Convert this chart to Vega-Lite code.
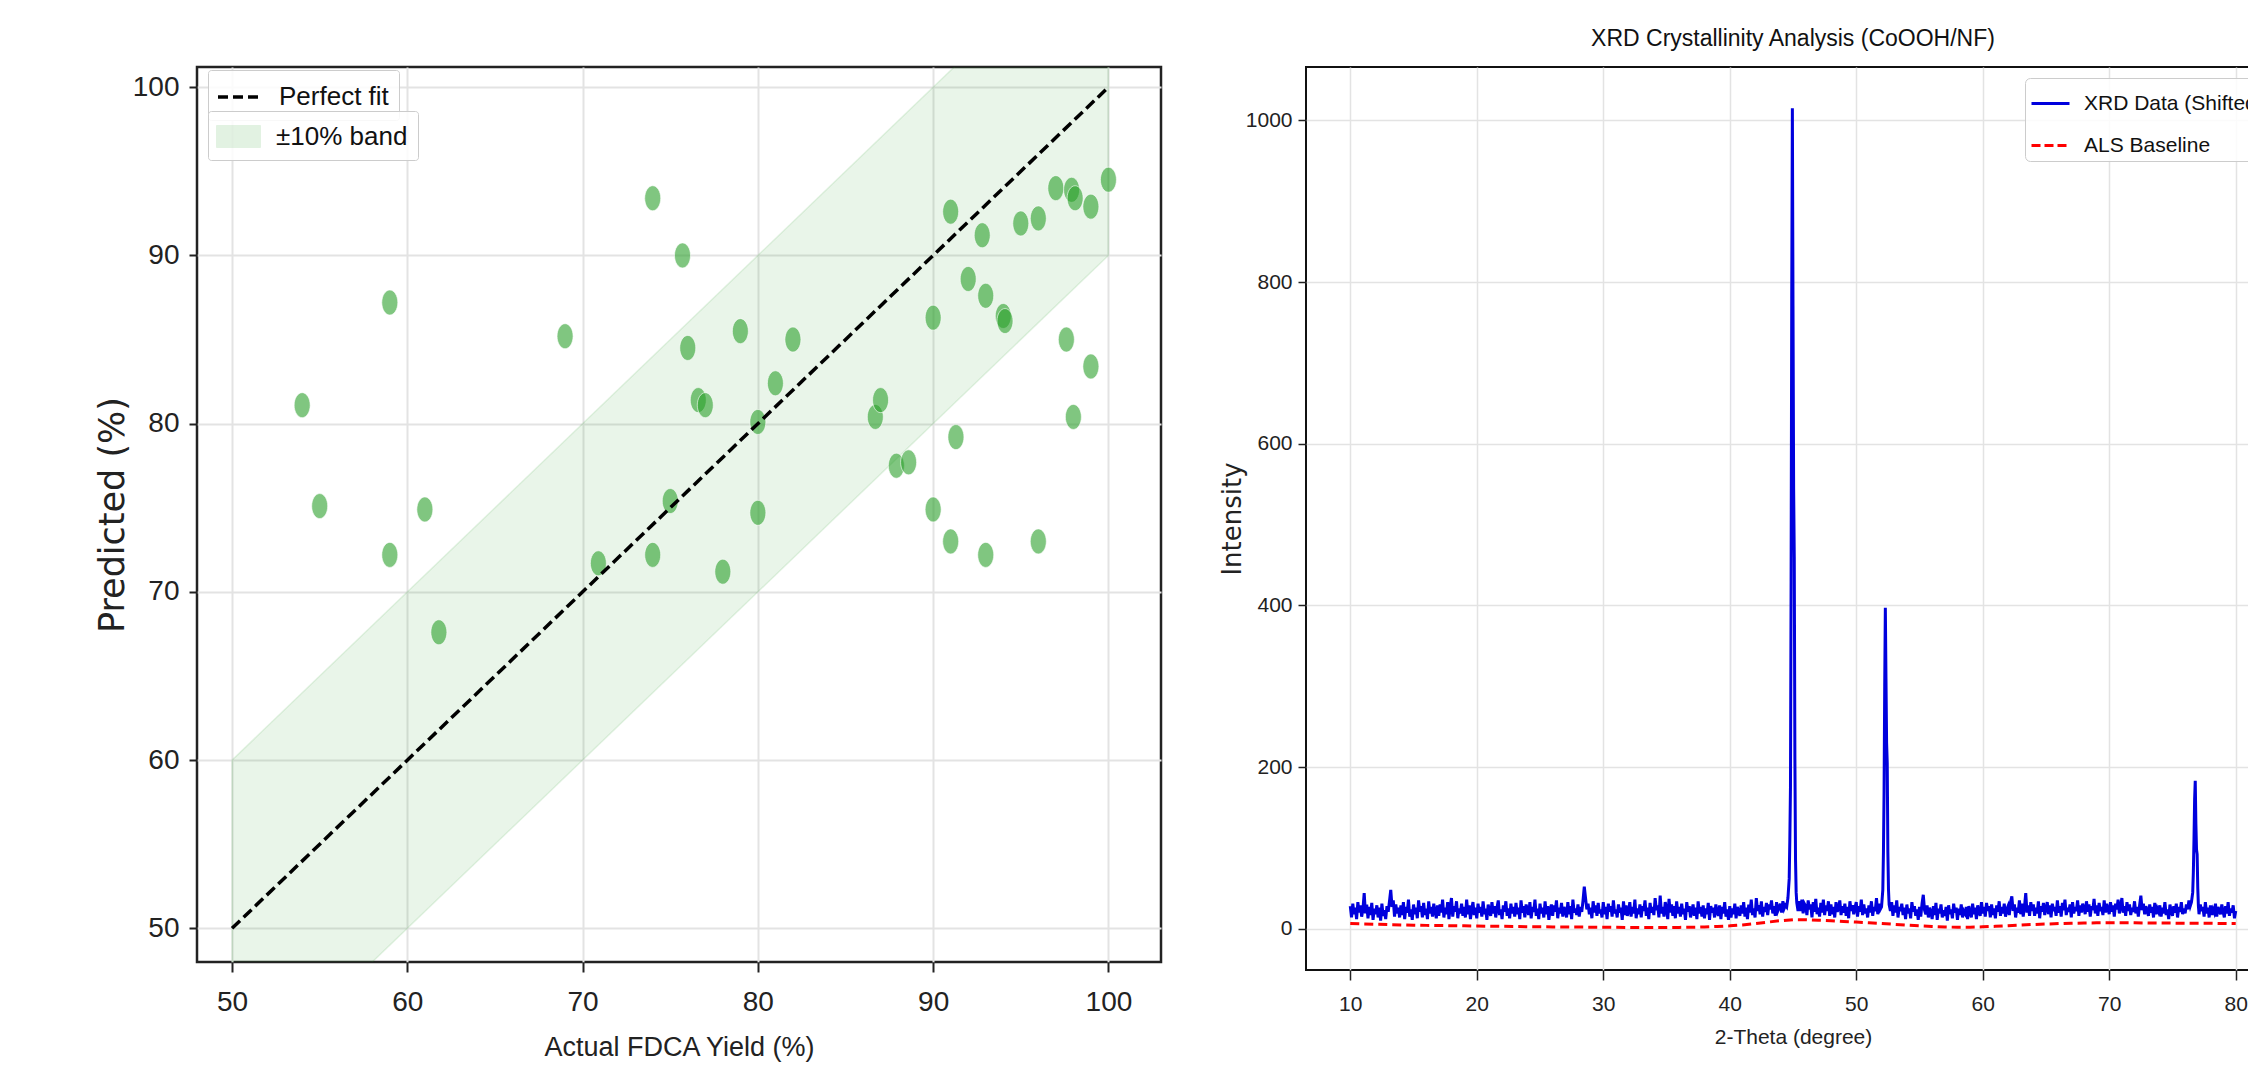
{
"$schema": "https://vega.github.io/schema/vega-lite/v6.json",
"background": "white",
"padding": {"left": 94, "top": 27, "right": 0, "bottom": 0},
"spacing": 55,
"resolve": {"scale": {"color": "independent"}, "legend": {"color": "independent"}},
"config": {
  "font": "Liberation Sans, Arial, sans-serif",
  "axis": {"labelColor": "#222", "titleColor": "#222", "tickColor": "#222", "domain": false, "gridColor": "#e3e3e3", "titleFontWeight": "normal", "labelFont": "Liberation Sans, Arial, sans-serif"},
  "title": {"fontWeight": "normal", "color": "#111", "font": "Liberation Sans, Arial, sans-serif"}
},
"datasets": {
  "band": [{"x": 50, "lo": 40, "hi": 60}, {"x": 100, "lo": 90, "hi": 110}],
  "fit": [{"x": 50, "y": 50}, {"x": 100, "y": 100}],
  "pts": [{"a":54,"p":81.1},{"a":55,"p":75.1},{"a":59,"p":87.2},{"a":59,"p":72.2},{"a":61,"p":74.9},{"a":61.8,"p":67.6},{"a":69,"p":85.2},{"a":70.9,"p":71.7},{"a":74,"p":93.4},{"a":74,"p":72.2},{"a":75,"p":75.4},{"a":75.7,"p":90.0},{"a":76,"p":84.5},{"a":76.6,"p":81.4},{"a":77,"p":81.1},{"a":78,"p":71.2},{"a":79,"p":85.5},{"a":80,"p":80.1},{"a":80,"p":74.7},{"a":81,"p":82.4},{"a":82,"p":85.0},{"a":86.7,"p":80.4},{"a":87,"p":81.4},{"a":87.9,"p":77.5},{"a":88.6,"p":77.7},{"a":90,"p":86.3},{"a":90,"p":74.9},{"a":91,"p":92.6},{"a":91,"p":73.0},{"a":91.3,"p":79.2},{"a":92,"p":88.6},{"a":92.8,"p":91.2},{"a":93,"p":87.6},{"a":93,"p":72.2},{"a":94,"p":86.4},{"a":94.1,"p":86.1},{"a":95,"p":91.9},{"a":96,"p":92.2},{"a":96,"p":73.0},{"a":97,"p":94.0},{"a":97.6,"p":85.0},{"a":97.9,"p":93.9},{"a":98.1,"p":93.4},{"a":98,"p":80.4},{"a":99,"p":92.9},{"a":99,"p":83.4},{"a":100,"p":94.5}],
  "base": [{"t":10,"i":6.5},{"t":11,"i":6.0},{"t":12,"i":5.6},{"t":13,"i":5.2},{"t":14,"i":4.8},{"t":15,"i":4.5},{"t":16,"i":4.2},{"t":17,"i":4.0},{"t":18,"i":3.8},{"t":19,"i":3.6},{"t":20,"i":3.4},{"t":21,"i":3.2},{"t":22,"i":3.0},{"t":23,"i":2.8},{"t":24,"i":2.6},{"t":25,"i":2.4},{"t":26,"i":2.3},{"t":27,"i":2.2},{"t":28,"i":2.1},{"t":29,"i":2.0},{"t":30,"i":1.9},{"t":31,"i":1.8},{"t":32,"i":1.7},{"t":33,"i":1.6},{"t":34,"i":1.6},{"t":35,"i":1.6},{"t":36,"i":1.7},{"t":37,"i":1.9},{"t":38,"i":2.2},{"t":39,"i":2.8},{"t":40,"i":3.6},{"t":41,"i":4.8},{"t":42,"i":6.4},{"t":43,"i":8.2},{"t":44,"i":10.0},{"t":45,"i":11.3},{"t":46,"i":11.2},{"t":47,"i":10.6},{"t":48,"i":9.9},{"t":49,"i":9.1},{"t":50,"i":8.3},{"t":51,"i":7.4},{"t":52,"i":6.5},{"t":53,"i":5.5},{"t":54,"i":4.5},{"t":55,"i":3.6},{"t":56,"i":2.8},{"t":57,"i":2.2},{"t":58,"i":1.9},{"t":59,"i":2.0},{"t":60,"i":2.4},{"t":61,"i":3.0},{"t":62,"i":3.8},{"t":63,"i":4.6},{"t":64,"i":5.3},{"t":65,"i":5.9},{"t":66,"i":6.4},{"t":67,"i":6.8},{"t":68,"i":7.1},{"t":69,"i":7.3},{"t":70,"i":7.4},{"t":71,"i":7.4},{"t":72,"i":7.3},{"t":73,"i":7.2},{"t":74,"i":7.1},{"t":75,"i":7.0},{"t":76,"i":6.9},{"t":77,"i":6.8},{"t":78,"i":6.7},{"t":79,"i":6.6},{"t":80,"i":6.5}],
  "xrd": [
{"t":10.0,"i":28},{"t":10.1,"i":14},{"t":10.2,"i":31},{"t":10.3,"i":18},{"t":10.4,"i":26},{"t":10.5,"i":12},{"t":10.6,"i":33},{"t":10.7,"i":20},{"t":10.8,"i":29},{"t":10.9,"i":15},
{"t":11.0,"i":24},{"t":11.1,"i":44},{"t":11.2,"i":19},{"t":11.3,"i":30},{"t":11.4,"i":13},{"t":11.5,"i":27},{"t":11.6,"i":17},{"t":11.7,"i":32},{"t":11.8,"i":11},{"t":11.9,"i":25},
{"t":12.0,"i":18},{"t":12.1,"i":29},{"t":12.2,"i":14},{"t":12.3,"i":26},{"t":12.4,"i":10},{"t":12.5,"i":31},{"t":12.6,"i":16},{"t":12.7,"i":23},{"t":12.8,"i":12},{"t":12.9,"i":28},
{"t":13.0,"i":21},{"t":13.1,"i":34},{"t":13.2,"i":48},{"t":13.3,"i":27},{"t":13.4,"i":35},{"t":13.5,"i":15},{"t":13.6,"i":30},{"t":13.7,"i":19},{"t":13.8,"i":26},{"t":13.9,"i":14},
{"t":14.0,"i":29},{"t":14.1,"i":17},{"t":14.2,"i":33},{"t":14.3,"i":12},{"t":14.4,"i":27},{"t":14.5,"i":20},{"t":14.6,"i":36},{"t":14.7,"i":15},{"t":14.8,"i":24},{"t":14.9,"i":11},
{"t":15.0,"i":30},{"t":15.1,"i":18},{"t":15.2,"i":26},{"t":15.3,"i":13},{"t":15.4,"i":35},{"t":15.5,"i":21},{"t":15.6,"i":28},{"t":15.7,"i":14},{"t":15.8,"i":32},{"t":15.9,"i":17},
{"t":16.0,"i":25},{"t":16.1,"i":12},{"t":16.2,"i":34},{"t":16.3,"i":19},{"t":16.4,"i":27},{"t":16.5,"i":15},{"t":16.6,"i":31},{"t":16.7,"i":22},{"t":16.8,"i":13},{"t":16.9,"i":29},
{"t":17.0,"i":16},{"t":17.1,"i":30},{"t":17.2,"i":20},{"t":17.3,"i":36},{"t":17.4,"i":14},{"t":17.5,"i":26},{"t":17.6,"i":18},{"t":17.7,"i":33},{"t":17.8,"i":12},{"t":17.9,"i":27},
{"t":18.0,"i":38},{"t":18.1,"i":15},{"t":18.2,"i":28},{"t":18.3,"i":21},{"t":18.4,"i":34},{"t":18.5,"i":13},{"t":18.6,"i":25},{"t":18.7,"i":19},{"t":18.8,"i":31},{"t":18.9,"i":16},
{"t":19.0,"i":27},{"t":19.1,"i":14},{"t":19.2,"i":36},{"t":19.3,"i":18},{"t":19.4,"i":29},{"t":19.5,"i":12},{"t":19.6,"i":24},{"t":19.7,"i":33},{"t":19.8,"i":17},{"t":19.9,"i":26},
{"t":20.0,"i":13},{"t":20.1,"i":31},{"t":20.2,"i":20},{"t":20.3,"i":27},{"t":20.4,"i":15},{"t":20.5,"i":34},{"t":20.6,"i":18},{"t":20.7,"i":25},{"t":20.8,"i":11},{"t":20.9,"i":30},
{"t":21.0,"i":22},{"t":21.1,"i":16},{"t":21.2,"i":33},{"t":21.3,"i":19},{"t":21.4,"i":28},{"t":21.5,"i":14},{"t":21.6,"i":26},{"t":21.7,"i":35},{"t":21.8,"i":17},{"t":21.9,"i":24},
{"t":22.0,"i":12},{"t":22.1,"i":29},{"t":22.2,"i":21},{"t":22.3,"i":34},{"t":22.4,"i":16},{"t":22.5,"i":25},{"t":22.6,"i":13},{"t":22.7,"i":31},{"t":22.8,"i":19},{"t":22.9,"i":27},
{"t":23.0,"i":15},{"t":23.1,"i":32},{"t":23.2,"i":18},{"t":23.3,"i":26},{"t":23.4,"i":12},{"t":23.5,"i":35},{"t":23.6,"i":20},{"t":23.7,"i":28},{"t":23.8,"i":14},{"t":23.9,"i":30},
{"t":24.0,"i":24},{"t":24.1,"i":17},{"t":24.2,"i":33},{"t":24.3,"i":13},{"t":24.4,"i":27},{"t":24.5,"i":21},{"t":24.6,"i":36},{"t":24.7,"i":16},{"t":24.8,"i":25},{"t":24.9,"i":12},
{"t":25.0,"i":31},{"t":25.1,"i":19},{"t":25.2,"i":26},{"t":25.3,"i":14},{"t":25.4,"i":34},{"t":25.5,"i":18},{"t":25.6,"i":28},{"t":25.7,"i":11},{"t":25.8,"i":24},{"t":25.9,"i":30},
{"t":26.0,"i":16},{"t":26.1,"i":29},{"t":26.2,"i":21},{"t":26.3,"i":35},{"t":26.4,"i":13},{"t":26.5,"i":26},{"t":26.6,"i":19},{"t":26.7,"i":32},{"t":26.8,"i":15},{"t":26.9,"i":27},
{"t":27.0,"i":22},{"t":27.1,"i":14},{"t":27.2,"i":33},{"t":27.3,"i":18},{"t":27.4,"i":28},{"t":27.5,"i":12},{"t":27.6,"i":36},{"t":27.7,"i":20},{"t":27.8,"i":25},{"t":27.9,"i":17},
{"t":28.0,"i":30},{"t":28.1,"i":15},{"t":28.2,"i":27},{"t":28.3,"i":21},{"t":28.4,"i":35},{"t":28.5,"i":52},{"t":28.6,"i":38},{"t":28.7,"i":24},{"t":28.8,"i":31},{"t":28.9,"i":18},
{"t":29.0,"i":26},{"t":29.1,"i":13},{"t":29.2,"i":34},{"t":29.3,"i":20},{"t":29.4,"i":29},{"t":29.5,"i":16},{"t":29.6,"i":32},{"t":29.7,"i":19},{"t":29.8,"i":24},{"t":29.9,"i":14},
{"t":30.0,"i":33},{"t":30.1,"i":18},{"t":30.2,"i":27},{"t":30.3,"i":12},{"t":30.4,"i":31},{"t":30.5,"i":21},{"t":30.6,"i":28},{"t":30.7,"i":15},{"t":30.8,"i":35},{"t":30.9,"i":19},
{"t":31.0,"i":24},{"t":31.1,"i":14},{"t":31.2,"i":30},{"t":31.3,"i":20},{"t":31.4,"i":26},{"t":31.5,"i":11},{"t":31.6,"i":34},{"t":31.7,"i":17},{"t":31.8,"i":29},{"t":31.9,"i":16},
{"t":32.0,"i":21},{"t":32.1,"i":33},{"t":32.2,"i":15},{"t":32.3,"i":27},{"t":32.4,"i":19},{"t":32.5,"i":36},{"t":32.6,"i":13},{"t":32.7,"i":25},{"t":32.8,"i":18},{"t":32.9,"i":30},
{"t":33.0,"i":14},{"t":33.1,"i":28},{"t":33.2,"i":22},{"t":33.3,"i":35},{"t":33.4,"i":16},{"t":33.5,"i":26},{"t":33.6,"i":12},{"t":33.7,"i":32},{"t":33.8,"i":20},{"t":33.9,"i":27},
{"t":34.0,"i":17},{"t":34.1,"i":38},{"t":34.2,"i":23},{"t":34.3,"i":29},{"t":34.4,"i":14},{"t":34.5,"i":41},{"t":34.6,"i":19},{"t":34.7,"i":27},{"t":34.8,"i":15},{"t":34.9,"i":33},
{"t":35.0,"i":25},{"t":35.1,"i":12},{"t":35.2,"i":37},{"t":35.3,"i":20},{"t":35.4,"i":30},{"t":35.5,"i":16},{"t":35.6,"i":28},{"t":35.7,"i":13},{"t":35.8,"i":34},{"t":35.9,"i":19},
{"t":36.0,"i":27},{"t":36.1,"i":15},{"t":36.2,"i":31},{"t":36.3,"i":18},{"t":36.4,"i":25},{"t":36.5,"i":11},{"t":36.6,"i":33},{"t":36.7,"i":21},{"t":36.8,"i":28},{"t":36.9,"i":14},
{"t":37.0,"i":22},{"t":37.1,"i":30},{"t":37.2,"i":16},{"t":37.3,"i":26},{"t":37.4,"i":12},{"t":37.5,"i":34},{"t":37.6,"i":19},{"t":37.7,"i":27},{"t":37.8,"i":15},{"t":37.9,"i":29},
{"t":38.0,"i":13},{"t":38.1,"i":25},{"t":38.2,"i":18},{"t":38.3,"i":32},{"t":38.4,"i":11},{"t":38.5,"i":28},{"t":38.6,"i":20},{"t":38.7,"i":26},{"t":38.8,"i":14},{"t":38.9,"i":30},
{"t":39.0,"i":21},{"t":39.1,"i":16},{"t":39.2,"i":29},{"t":39.3,"i":12},{"t":39.4,"i":27},{"t":39.5,"i":19},{"t":39.6,"i":33},{"t":39.7,"i":15},{"t":39.8,"i":24},{"t":39.9,"i":11},
{"t":40.0,"i":28},{"t":40.1,"i":14},{"t":40.2,"i":25},{"t":40.3,"i":18},{"t":40.4,"i":31},{"t":40.5,"i":13},{"t":40.6,"i":27},{"t":40.7,"i":21},{"t":40.8,"i":16},{"t":40.9,"i":29},
{"t":41.0,"i":19},{"t":41.1,"i":33},{"t":41.2,"i":15},{"t":41.3,"i":26},{"t":41.4,"i":12},{"t":41.5,"i":30},{"t":41.6,"i":20},{"t":41.7,"i":36},{"t":41.8,"i":17},{"t":41.9,"i":25},
{"t":42.0,"i":14},{"t":42.1,"i":38},{"t":42.2,"i":22},{"t":42.3,"i":29},{"t":42.4,"i":18},{"t":42.5,"i":34},{"t":42.6,"i":15},{"t":42.7,"i":27},{"t":42.8,"i":21},{"t":42.9,"i":32},
{"t":43.0,"i":17},{"t":43.1,"i":30},{"t":43.2,"i":24},{"t":43.3,"i":35},{"t":43.4,"i":19},{"t":43.5,"i":28},{"t":43.6,"i":16},{"t":43.7,"i":33},{"t":43.8,"i":22},{"t":43.9,"i":26},
{"t":44.0,"i":31},{"t":44.1,"i":20},{"t":44.2,"i":34},{"t":44.3,"i":25},{"t":44.4,"i":29},{"t":44.5,"i":27},{"t":44.6,"i":38},{"t":44.7,"i":62},{"t":44.75,"i":110},{"t":44.8,"i":175},{"t":44.85,"i":430},{"t":44.9,"i":780},{"t":44.95,"i":1015},{"t":45.0,"i":770},{"t":45.05,"i":545},{"t":45.1,"i":460},{"t":45.15,"i":210},{"t":45.2,"i":85},{"t":45.25,"i":45},{"t":45.3,"i":32},{"t":45.4,"i":22},
{"t":45.5,"i":34},{"t":45.6,"i":22},{"t":45.7,"i":36},{"t":45.8,"i":19},{"t":45.9,"i":31},
{"t":46.0,"i":28},{"t":46.1,"i":17},{"t":46.2,"i":35},{"t":46.3,"i":24},{"t":46.4,"i":30},{"t":46.5,"i":14},{"t":46.6,"i":33},{"t":46.7,"i":21},{"t":46.8,"i":37},{"t":46.9,"i":18},
{"t":47.0,"i":26},{"t":47.1,"i":15},{"t":47.2,"i":32},{"t":47.3,"i":20},{"t":47.4,"i":36},{"t":47.5,"i":17},{"t":47.6,"i":29},{"t":47.7,"i":22},{"t":47.8,"i":34},{"t":47.9,"i":16},
{"t":48.0,"i":30},{"t":48.1,"i":18},{"t":48.2,"i":27},{"t":48.3,"i":14},{"t":48.4,"i":33},{"t":48.5,"i":21},{"t":48.6,"i":25},{"t":48.7,"i":35},{"t":48.8,"i":17},{"t":48.9,"i":28},
{"t":49.0,"i":20},{"t":49.1,"i":31},{"t":49.2,"i":16},{"t":49.3,"i":27},{"t":49.4,"i":13},{"t":49.5,"i":34},{"t":49.6,"i":22},{"t":49.7,"i":29},{"t":49.8,"i":18},{"t":49.9,"i":26},
{"t":50.0,"i":33},{"t":50.1,"i":15},{"t":50.2,"i":28},{"t":50.3,"i":21},{"t":50.4,"i":36},{"t":50.5,"i":17},{"t":50.6,"i":30},{"t":50.7,"i":19},{"t":50.8,"i":25},{"t":50.9,"i":14},
{"t":51.0,"i":29},{"t":51.1,"i":20},{"t":51.2,"i":34},{"t":51.3,"i":16},{"t":51.4,"i":27},{"t":51.5,"i":22},{"t":51.6,"i":38},{"t":51.7,"i":18},{"t":51.8,"i":31},{"t":51.9,"i":24},
{"t":52.0,"i":27},{"t":52.1,"i":48},{"t":52.15,"i":95},{"t":52.2,"i":170},{"t":52.25,"i":300},{"t":52.3,"i":397},{"t":52.35,"i":310},{"t":52.4,"i":230},{"t":52.45,"i":205},{"t":52.5,"i":95},{"t":52.55,"i":48},{"t":52.6,"i":30},{"t":52.7,"i":22},{"t":52.8,"i":33},{"t":52.9,"i":16},
{"t":53.0,"i":29},{"t":53.1,"i":20},{"t":53.2,"i":35},{"t":53.3,"i":14},{"t":53.4,"i":27},{"t":53.5,"i":22},{"t":53.6,"i":31},{"t":53.7,"i":17},{"t":53.8,"i":26},{"t":53.9,"i":12},
{"t":54.0,"i":30},{"t":54.1,"i":19},{"t":54.2,"i":25},{"t":54.3,"i":13},{"t":54.4,"i":33},{"t":54.5,"i":21},{"t":54.6,"i":28},{"t":54.7,"i":16},{"t":54.8,"i":24},{"t":54.9,"i":11},
{"t":55.0,"i":27},{"t":55.1,"i":15},{"t":55.2,"i":31},{"t":55.3,"i":42},{"t":55.4,"i":23},{"t":55.5,"i":18},{"t":55.6,"i":29},{"t":55.7,"i":14},{"t":55.8,"i":26},{"t":55.9,"i":20},
{"t":56.0,"i":12},{"t":56.1,"i":28},{"t":56.2,"i":17},{"t":56.3,"i":32},{"t":56.4,"i":11},{"t":56.5,"i":25},{"t":56.6,"i":19},{"t":56.7,"i":30},{"t":56.8,"i":14},{"t":56.9,"i":23},
{"t":57.0,"i":16},{"t":57.1,"i":27},{"t":57.2,"i":10},{"t":57.3,"i":29},{"t":57.4,"i":18},{"t":57.5,"i":24},{"t":57.6,"i":13},{"t":57.7,"i":31},{"t":57.8,"i":20},{"t":57.9,"i":26},
{"t":58.0,"i":11},{"t":58.1,"i":25},{"t":58.2,"i":17},{"t":58.3,"i":30},{"t":58.4,"i":14},{"t":58.5,"i":22},{"t":58.6,"i":19},{"t":58.7,"i":27},{"t":58.8,"i":12},{"t":58.9,"i":28},
{"t":59.0,"i":20},{"t":59.1,"i":14},{"t":59.2,"i":31},{"t":59.3,"i":18},{"t":59.4,"i":26},{"t":59.5,"i":12},{"t":59.6,"i":29},{"t":59.7,"i":21},{"t":59.8,"i":16},{"t":59.9,"i":33},
{"t":60.0,"i":19},{"t":60.1,"i":27},{"t":60.2,"i":15},{"t":60.3,"i":32},{"t":60.4,"i":22},{"t":60.5,"i":28},{"t":60.6,"i":14},{"t":60.7,"i":30},{"t":60.8,"i":17},{"t":60.9,"i":25},
{"t":61.0,"i":13},{"t":61.1,"i":29},{"t":61.2,"i":21},{"t":61.3,"i":34},{"t":61.4,"i":16},{"t":61.5,"i":27},{"t":61.6,"i":19},{"t":61.7,"i":31},{"t":61.8,"i":15},{"t":61.9,"i":24},
{"t":62.0,"i":28},{"t":62.1,"i":17},{"t":62.2,"i":33},{"t":62.3,"i":40},{"t":62.4,"i":22},{"t":62.5,"i":30},{"t":62.6,"i":14},{"t":62.7,"i":26},{"t":62.8,"i":20},{"t":62.9,"i":35},
{"t":63.0,"i":18},{"t":63.1,"i":31},{"t":63.2,"i":15},{"t":63.3,"i":27},{"t":63.4,"i":44},{"t":63.5,"i":20},{"t":63.6,"i":29},{"t":63.7,"i":16},{"t":63.8,"i":33},{"t":63.9,"i":22},
{"t":64.0,"i":30},{"t":64.1,"i":16},{"t":64.2,"i":26},{"t":64.3,"i":19},{"t":64.4,"i":34},{"t":64.5,"i":13},{"t":64.6,"i":28},{"t":64.7,"i":21},{"t":64.8,"i":32},{"t":64.9,"i":17},
{"t":65.0,"i":25},{"t":65.1,"i":33},{"t":65.2,"i":18},{"t":65.3,"i":29},{"t":65.4,"i":14},{"t":65.5,"i":31},{"t":65.6,"i":22},{"t":65.7,"i":27},{"t":65.8,"i":16},{"t":65.9,"i":35},
{"t":66.0,"i":20},{"t":66.1,"i":28},{"t":66.2,"i":15},{"t":66.3,"i":32},{"t":66.4,"i":23},{"t":66.5,"i":36},{"t":66.6,"i":17},{"t":66.7,"i":26},{"t":66.8,"i":21},{"t":66.9,"i":30},
{"t":67.0,"i":14},{"t":67.1,"i":33},{"t":67.2,"i":19},{"t":67.3,"i":27},{"t":67.4,"i":22},{"t":67.5,"i":35},{"t":67.6,"i":16},{"t":67.7,"i":29},{"t":67.8,"i":20},{"t":67.9,"i":31},
{"t":68.0,"i":26},{"t":68.1,"i":18},{"t":68.2,"i":34},{"t":68.3,"i":21},{"t":68.4,"i":30},{"t":68.5,"i":15},{"t":68.6,"i":28},{"t":68.7,"i":23},{"t":68.8,"i":37},{"t":68.9,"i":19},
{"t":69.0,"i":29},{"t":69.1,"i":16},{"t":69.2,"i":32},{"t":69.3,"i":22},{"t":69.4,"i":27},{"t":69.5,"i":17},{"t":69.6,"i":35},{"t":69.7,"i":20},{"t":69.8,"i":31},{"t":69.9,"i":24},
{"t":70.0,"i":18},{"t":70.1,"i":33},{"t":70.2,"i":21},{"t":70.3,"i":29},{"t":70.4,"i":15},{"t":70.5,"i":31},{"t":70.6,"i":24},{"t":70.7,"i":36},{"t":70.8,"i":19},{"t":70.9,"i":27},
{"t":71.0,"i":38},{"t":71.1,"i":20},{"t":71.2,"i":28},{"t":71.3,"i":16},{"t":71.4,"i":33},{"t":71.5,"i":22},{"t":71.6,"i":30},{"t":71.7,"i":17},{"t":71.8,"i":26},{"t":71.9,"i":21},
{"t":72.0,"i":34},{"t":72.1,"i":19},{"t":72.2,"i":27},{"t":72.3,"i":15},{"t":72.4,"i":29},{"t":72.5,"i":41},{"t":72.6,"i":23},{"t":72.7,"i":31},{"t":72.8,"i":18},{"t":72.9,"i":28},
{"t":73.0,"i":22},{"t":73.1,"i":16},{"t":73.2,"i":30},{"t":73.3,"i":20},{"t":73.4,"i":27},{"t":73.5,"i":14},{"t":73.6,"i":32},{"t":73.7,"i":18},{"t":73.8,"i":25},{"t":73.9,"i":21},
{"t":74.0,"i":29},{"t":74.1,"i":15},{"t":74.2,"i":26},{"t":74.3,"i":19},{"t":74.4,"i":33},{"t":74.5,"i":17},{"t":74.6,"i":24},{"t":74.7,"i":12},{"t":74.8,"i":30},{"t":74.9,"i":22},
{"t":75.0,"i":16},{"t":75.1,"i":28},{"t":75.2,"i":20},{"t":75.3,"i":31},{"t":75.4,"i":14},{"t":75.5,"i":27},{"t":75.6,"i":21},{"t":75.7,"i":33},{"t":75.8,"i":18},{"t":75.9,"i":25},
{"t":76.0,"i":19},{"t":76.1,"i":30},{"t":76.2,"i":24},{"t":76.3,"i":35},{"t":76.4,"i":28},{"t":76.5,"i":33},{"t":76.6,"i":45},{"t":76.65,"i":70},{"t":76.7,"i":110},{"t":76.75,"i":160},{"t":76.8,"i":183},{"t":76.85,"i":130},{"t":76.9,"i":98},{"t":76.95,"i":92},{"t":77.0,"i":50},{"t":77.05,"i":28},
{"t":77.1,"i":18},{"t":77.2,"i":30},{"t":77.3,"i":22},{"t":77.4,"i":27},{"t":77.5,"i":15},{"t":77.6,"i":33},{"t":77.7,"i":19},{"t":77.8,"i":26},{"t":77.9,"i":14},
{"t":78.0,"i":29},{"t":78.1,"i":17},{"t":78.2,"i":24},{"t":78.3,"i":20},{"t":78.4,"i":31},{"t":78.5,"i":15},{"t":78.6,"i":27},{"t":78.7,"i":22},{"t":78.8,"i":18},{"t":78.9,"i":30},
{"t":79.0,"i":21},{"t":79.1,"i":14},{"t":79.2,"i":28},{"t":79.3,"i":19},{"t":79.4,"i":33},{"t":79.5,"i":16},{"t":79.6,"i":25},{"t":79.7,"i":20},{"t":79.8,"i":29},{"t":79.9,"i":13},
{"t":80.0,"i":22}
  ]
},
"hconcat": [
  {
    "width": 964, "height": 895,
    "view": {"stroke": "#222", "strokeWidth": 2.5},
    "layer": [
      {
        "data": {"name": "band"},
        "mark": {"type": "area", "clip": true, "fillOpacity": 0.1, "stroke": "#2ca02c", "strokeOpacity": 0.12, "strokeWidth": 1.5},
        "encoding": {
          "x": {"field": "x", "type": "quantitative", "scale": {"domain": [48, 103], "nice": false, "zero": false},
                "axis": {"title": "Actual FDCA Yield (%)", "values": [50, 60, 70, 80, 90, 100], "grid": true, "gridWidth": 2, "tickSize": 10, "tickWidth": 2, "labelFontSize": 28, "labelPadding": 16, "titleFontSize": 27, "titlePadding": 18}},
          "y": {"field": "lo", "type": "quantitative", "scale": {"domain": [48, 101.2], "nice": false, "zero": false},
                "axis": {"title": "Predicted (%)", "values": [50, 60, 70, 80, 90, 100], "grid": true, "gridWidth": 2, "tickSize": 8, "tickWidth": 2, "labelFontSize": 28, "labelPadding": 10, "titleFont": "DejaVu Sans", "titleFontSize": 35, "titlePadding": 2}},
          "y2": {"field": "hi"},
          "fill": {"datum": "±10% band", "type": "nominal",
                    "scale": {"domain": ["±10% band"], "range": ["#2ca02c"]},
                    "legend": {"title": null, "orient": "none", "legendX": 11, "legendY": 44, "padding": 10, "fillColor": "rgba(255,255,255,0.85)", "strokeColor": "#cccccc", "cornerRadius": 3, "labelFontSize": 26, "labelColor": "#111", "labelOffset": 27, "symbolSize": 900, "symbolType": "M-1.1333,-0.7333H1.8V0.7333H-1.1333Z", "symbolOpacity": 0.13, "symbolStrokeColor": "#2ca02c", "symbolStrokeWidth": 1, "labelLimit": 400}}
        }
      },
      {
        "data": {"name": "pts"},
        "mark": {"type": "point", "shape": "M0,-1A0.64,1,0,1,1,0,1A0.64,1,0,1,1,0,-1Z", "size": 625, "filled": true, "fill": "#2ca02c", "fillOpacity": 0.6, "stroke": "#ffffff", "strokeWidth": 1, "strokeOpacity": 0.6},
        "encoding": {"x": {"field": "a", "type": "quantitative"}, "y": {"field": "p", "type": "quantitative"}}
      },
      {
        "data": {"name": "fit"},
        "mark": {"type": "line", "strokeDash": [11, 5], "strokeWidth": 3.5},
        "encoding": {"x": {"field": "x", "type": "quantitative"}, "y": {"field": "y", "type": "quantitative"},
          "color": {"datum": "Perfect fit", "type": "nominal", "scale": {"domain": ["Perfect fit"], "range": ["#000000"]},
                    "legend": {"title": null, "orient": "none", "legendX": 11, "legendY": 3, "padding": 10, "fillColor": "rgba(255,255,255,0.85)", "strokeColor": "#cccccc", "cornerRadius": 3, "labelFontSize": 26, "labelColor": "#111", "labelOffset": 27, "symbolSize": 900, "symbolType": "M-1.1333,0H1.8", "symbolStrokeWidth": 3.5, "symbolDash": [10, 5], "labelLimit": 400}}}
      }
    ]
  },
  {
    "width": 974, "height": 903,
    "title": {"text": "XRD Crystallinity Analysis (CoOOH/NF)", "fontSize": 23, "offset": 16, "frame": "group"},
    "view": {"stroke": "#111", "strokeWidth": 2},
    "layer": [
      {
        "data": {"name": "xrd"},
        "mark": {"type": "line", "strokeWidth": 3},
        "encoding": {
          "x": {"field": "t", "type": "quantitative", "scale": {"domain": [6.5, 83.5], "nice": false, "zero": false},
                "axis": {"title": "2-Theta (degree)", "values": [10, 20, 30, 40, 50, 60, 70, 80], "grid": true, "gridWidth": 1.5, "tickSize": 10, "tickWidth": 1.5, "labelFontSize": 21, "labelPadding": 13, "titleFontSize": 21, "titlePadding": 12}},
          "y": {"field": "i", "type": "quantitative", "scale": {"domain": [-51, 1066], "nice": false, "zero": false},
                "axis": {"title": "Intensity", "values": [0, 200, 400, 600, 800, 1000], "format": "d", "grid": true, "gridWidth": 1.5, "tickSize": 8, "tickWidth": 1.5, "labelFontSize": 21, "labelPadding": 6, "titleFont": "DejaVu Sans", "titleFontSize": 26, "titlePadding": 0}},
          "color": {"datum": "XRD Data (Shifted)", "type": "nominal",
                    "scale": {"domain": ["XRD Data (Shifted)", "ALS Baseline"], "range": ["#0000dd", "#ff0000"]},
                    "legend": {"title": null, "orient": "top-right", "offset": 11, "padding": 5, "fillColor": "rgba(255,255,255,0.85)", "strokeColor": "#cccccc", "cornerRadius": 5, "labelFontSize": 21, "labelColor": "#111", "labelOffset": 13, "rowPadding": 11, "symbolType": "stroke", "symbolSize": 1444, "symbolStrokeWidth": 3, "labelLimit": 400,
                      "encode": {"symbols": {"update": {"strokeDash": {"signal": "datum.value === 'ALS Baseline' ? [9,4] : [1,0]"}}}}}}
        }
      },
      {
        "data": {"name": "base"},
        "mark": {"type": "line", "strokeWidth": 3, "strokeDash": [9, 5]},
        "encoding": {"x": {"field": "t", "type": "quantitative"}, "y": {"field": "i", "type": "quantitative"}, "color": {"datum": "ALS Baseline", "type": "nominal"}}
      }
    ]
  }
]
}
